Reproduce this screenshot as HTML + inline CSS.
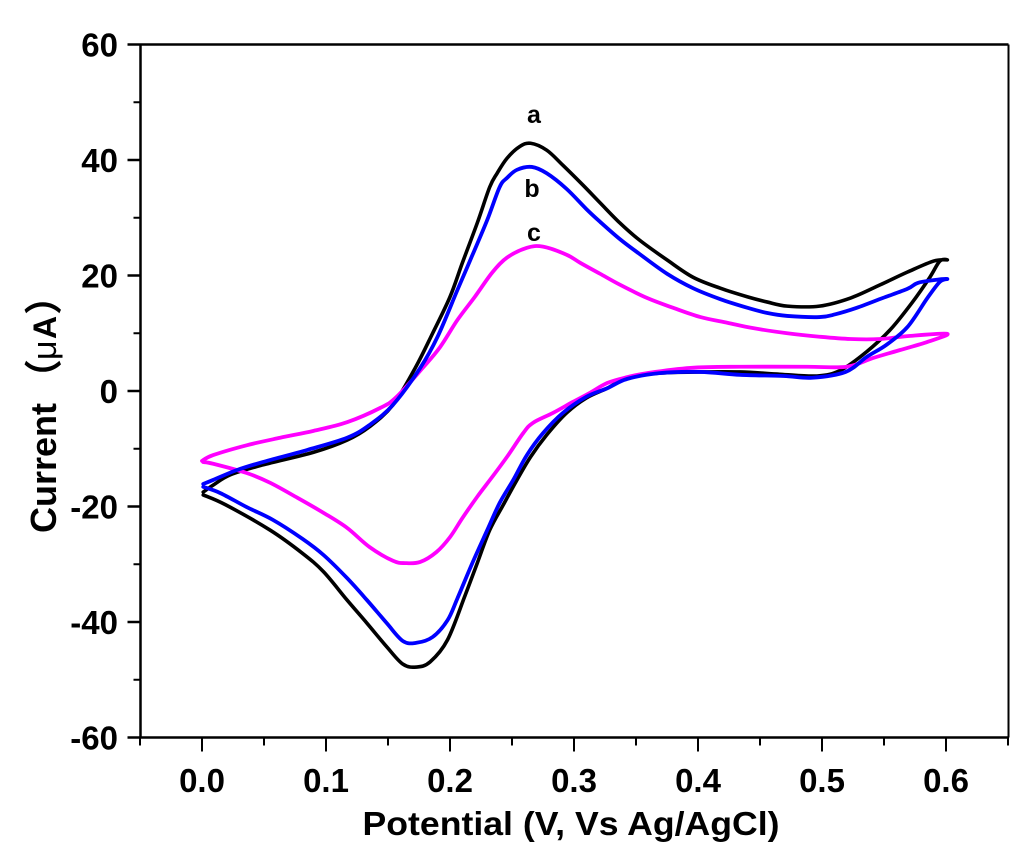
<!DOCTYPE html>
<html lang="en">
<head>
<meta charset="utf-8">
<title>Cyclic voltammogram</title>
<style>
html,body{margin:0;padding:0;background:#fff;}
svg{display:block;}
text{font-family:"Liberation Sans","Noto Sans CJK SC",sans-serif;font-weight:bold;fill:#000;}
</style>
</head>
<body>
<svg id="chart" xmlns="http://www.w3.org/2000/svg" width="1024" height="864" viewBox="0 0 1024 864">
  <rect x="0" y="0" width="1024" height="864" fill="#fff"/>
  <g id="axes"></g>
  <g id="series"></g>
  <text x="534" y="123" font-size="25" text-anchor="middle">a</text>
  <text x="532" y="197" font-size="25" text-anchor="middle">b</text>
  <text x="534" y="241" font-size="25" text-anchor="middle">c</text>
  <text x="571" y="835" font-size="33" text-anchor="middle" textLength="417" lengthAdjust="spacingAndGlyphs">Potential (V, Vs Ag/AgCl)</text>
  <g>
    <text transform="translate(56,533) rotate(-90)" font-size="36" textLength="130" lengthAdjust="spacingAndGlyphs">Current</text>
    <text transform="translate(57,397) rotate(-90)" font-size="38" style="font-weight:bold">（</text>
    <text transform="translate(56,360) rotate(-90)" font-size="34" style="font-weight:normal">μ</text>
    <text transform="translate(56,339) rotate(-90)" font-size="32">A</text>
    <text transform="translate(57,315) rotate(-90)" font-size="38" style="font-weight:bold">）</text>
  </g>
</svg>
<script>
const xTickValues = [0, 0.1, 0.2, 0.3, 0.4, 0.5, 0.6];
const xTickLabels = ["0.0", "0.1", "0.2", "0.3", "0.4", "0.5", "0.6"];
const xMinorValues = [-0.05, 0.05, 0.15, 0.25, 0.35, 0.45, 0.55, 0.65];
const yTickValues = [60, 40, 20, 0, -20, -40, -60];
const yTickLabels = ["60", "40", "20", "0", "-20", "-40", "-60"];
const yMinorValues = [50, 30, 10, -10, -30, -50];

const potentialA = [0.001,0.009,0.023,0.049,0.090,0.117,0.135,0.154,0.172,0.186,0.200,0.210,0.222,0.232,0.238,0.246,0.256,0.265,0.278,0.291,0.307,0.321,0.337,0.353,0.375,0.396,0.418,0.440,0.456,0.472,0.498,0.523,0.547,0.569,0.590,0.601,0.595,0.587,0.573,0.555,0.536,0.515,0.496,0.466,0.434,0.402,0.369,0.343,0.327,0.310,0.294,0.278,0.265,0.254,0.243,0.232,0.222,0.212,0.198,0.184,0.173,0.162,0.149,0.133,0.117,0.098,0.081,0.055,0.019,0.001];
const currentA = [-17.5,-16.3,-14.5,-12.8,-10.6,-8.5,-6.2,-2.4,4.0,10.0,16.3,22.2,29.1,35.3,37.7,40.3,42.3,42.9,41.7,39.1,35.7,32.6,29.1,26.1,22.7,19.7,17.8,16.3,15.4,14.7,14.7,16.1,18.4,20.6,22.5,22.7,22.5,19.7,15.4,10.6,6.8,3.6,2.6,2.9,3.3,3.3,3.1,2.3,0.5,-1.2,-3.8,-7.6,-11.4,-15.4,-19.7,-24.1,-29.8,-35.5,-43.1,-46.9,-47.8,-47.3,-44.3,-40.2,-36.2,-31.3,-28.1,-24.1,-19.7,-18.0];

const potentialC = [0,0.009,0.036,0.063,0.090,0.117,0.144,0.157,0.178,0.192,0.206,0.220,0.234,0.246,0.262,0.275,0.294,0.305,0.321,0.337,0.359,0.380,0.402,0.424,0.444,0.472,0.498,0.523,0.547,0.569,0.601,0.585,0.563,0.541,0.520,0.488,0.434,0.394,0.359,0.343,0.327,0.313,0.299,0.283,0.267,0.259,0.246,0.234,0.222,0.210,0.200,0.189,0.176,0.164,0.154,0.135,0.117,0.098,0.077,0.055,0.036,0.009,0.001];
const currentC = [-12.1,-11.1,-9.4,-8.1,-6.9,-5.4,-2.9,-1.0,4.0,7.6,12.3,16.3,20.5,23.1,24.8,25.0,23.6,22.2,20.3,18.4,16.1,14.4,12.8,11.8,10.9,10.0,9.4,9.0,9.0,9.5,9.9,8.5,7.1,5.7,4.2,4.2,4.2,4.0,3.1,2.4,1.4,-0.3,-1.9,-3.8,-5.5,-7.3,-11.4,-14.9,-18.3,-22.0,-25.3,-27.9,-29.6,-29.8,-29.4,-27.0,-23.7,-21.1,-18.5,-15.9,-14.2,-12.6,-12.3];

const potentialB = [0.001,0.009,0.028,0.049,0.085,0.117,0.135,0.154,0.176,0.190,0.206,0.218,0.230,0.240,0.246,0.254,0.266,0.278,0.294,0.310,0.321,0.337,0.353,0.375,0.396,0.418,0.440,0.456,0.472,0.498,0.511,0.528,0.549,0.569,0.577,0.590,0.601,0.595,0.585,0.569,0.552,0.536,0.519,0.492,0.469,0.434,0.402,0.369,0.343,0.327,0.310,0.291,0.275,0.262,0.251,0.240,0.230,0.218,0.206,0.198,0.186,0.173,0.162,0.149,0.133,0.117,0.098,0.081,0.057,0.036,0.015,0.001];
const currentB = [-16.1,-15.4,-13.7,-12.3,-10.2,-8.1,-5.9,-2.4,4.0,9.4,17.5,23.5,29.6,35.3,36.9,38.3,38.8,37.7,35.0,31.5,29.3,26.3,23.7,20.3,17.8,15.9,14.4,13.5,13.0,12.8,13.3,14.4,16.1,17.7,18.7,19.2,19.4,18.9,16.1,11.1,8.0,5.9,3.3,2.3,2.6,2.8,3.3,3.1,2.1,0.5,-1.0,-3.8,-7.3,-11.1,-15.4,-19.4,-24.1,-29.8,-35.9,-39.7,-42.6,-43.6,-43.3,-40.2,-36.2,-32.4,-28.4,-25.6,-22.3,-20.1,-17.7,-16.6];

const SVG_NS = "http://www.w3.org/2000/svg";
const plot = {left: 140.5, right: 1008.5, top: 44.5, bottom: 737.5};
const xScale = v => 202 + v * (946 - 202) / 0.6;
const yScale = i => 391 - i * (737.5 - 44.5) / 120;

const axes = document.getElementById("axes");
const seriesGroup = document.getElementById("series");

function makeLine(x1, y1, x2, y2, w) {
  const l = document.createElementNS(SVG_NS, "line");
  l.setAttribute("x1", x1);
  l.setAttribute("y1", y1);
  l.setAttribute("x2", x2);
  l.setAttribute("y2", y2);
  l.setAttribute("stroke", "#000");
  l.setAttribute("stroke-width", w);
  axes.appendChild(l);
  return l;
}

function makeTickLabel(x, y, anchor, str) {
  const t = document.createElementNS(SVG_NS, "text");
  t.setAttribute("x", x);
  t.setAttribute("y", y);
  t.setAttribute("font-size", "33");
  t.setAttribute("text-anchor", anchor);
  t.textContent = str;
  axes.appendChild(t);
  return t;
}

const spineLeft = makeLine(plot.left, plot.top, plot.left, plot.bottom, 2.5);


const spineRight = makeLine(plot.right, plot.top, plot.right, plot.bottom, 2);


const spineTop = makeLine(plot.left, plot.top, plot.right, plot.top, 2.5);


const spineBottom = makeLine(plot.left, plot.bottom, plot.right, plot.bottom, 2.5);



xTickValues.forEach((v, k) => {
  const x = xScale(v);
  const tick = makeLine(x, plot.bottom, x, plot.bottom + 14, 2);
  
  
  const label = makeTickLabel(x, 792, "middle", xTickLabels[k]);
  
  
});
xMinorValues.forEach(v => {
  const x = xScale(v);
  const tick = makeLine(x, plot.bottom, x, plot.bottom + 8, 2);
  
  
});
yTickValues.forEach((v, k) => {
  const y = yScale(v);
  const tick = makeLine(plot.left - 13, y, plot.left, y, 2.5);
  
  
  const label = makeTickLabel(118, y + 12, "end", yTickLabels[k]);
  
  
});
yMinorValues.forEach(v => {
  const y = yScale(v);
  const tick = makeLine(plot.left - 7, y, plot.left, y, 2);
  
  
});

function curvePath(xs, ys) {
  const pts = xs.map((v, k) => [xScale(v), yScale(ys[k])]);
  let d = "M" + pts[0][0].toFixed(2) + " " + pts[0][1].toFixed(2);
  for (let k = 0; k < pts.length - 1; k++) {
    const p0 = pts[Math.max(k - 1, 0)];
    const p1 = pts[k];
    const p2 = pts[k + 1];
    const p3 = pts[Math.min(k + 2, pts.length - 1)];
    const c1x = p1[0] + (p2[0] - p0[0]) / 6;
    const c1y = p1[1] + (p2[1] - p0[1]) / 6;
    const c2x = p2[0] - (p3[0] - p1[0]) / 6;
    const c2y = p2[1] - (p3[1] - p1[1]) / 6;
    d += " C" + c1x.toFixed(2) + " " + c1y.toFixed(2) + " " + c2x.toFixed(2) + " " + c2y.toFixed(2) + " " + p2[0].toFixed(2) + " " + p2[1].toFixed(2);
  }
  return d;
}

function drawCurve(xs, ys, color, width) {
  const p = document.createElementNS(SVG_NS, "path");
  p.setAttribute("d", curvePath(xs, ys));
  p.setAttribute("fill", "none");
  p.setAttribute("stroke", color);
  p.setAttribute("stroke-width", width);
  p.setAttribute("stroke-linejoin", "round");
  p.setAttribute("stroke-linecap", "round");
  seriesGroup.appendChild(p);
  return p;
}

const curveA = drawCurve(potentialA, currentA, "#000000", 3.6);


const curveC = drawCurve(potentialC, currentC, "#ff00ff", 3.8);


const curveB = drawCurve(potentialB, currentB, "#0000ff", 3.8);


</script>
</body>
</html>
